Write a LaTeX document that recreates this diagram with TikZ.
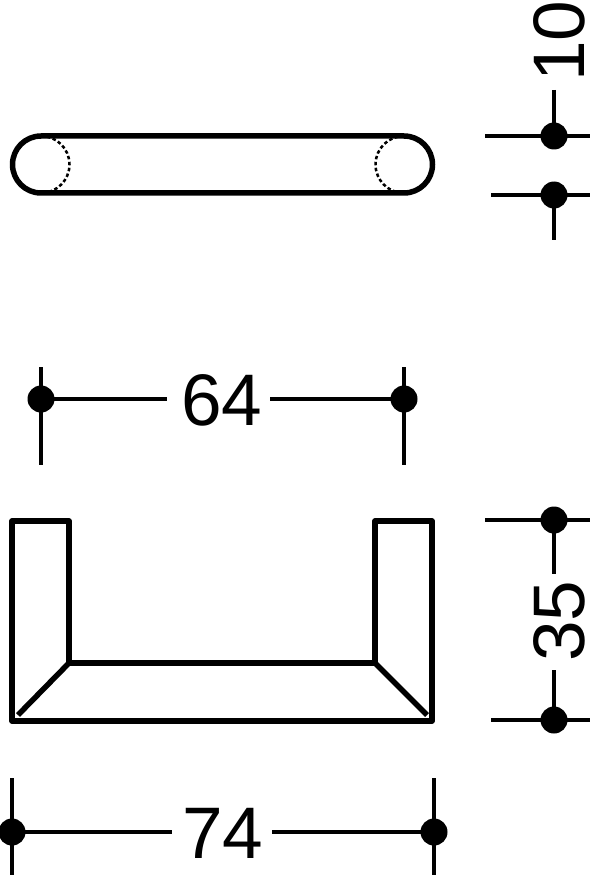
\documentclass[tikz,border=0pt]{standalone}
\usepackage{fontspec}
\setmainfont{Liberation Sans}
\tikzset{
  x=1pt,y=-1pt,
  part/.style={draw=black,line width=5.5pt,line join=round},
  hidden/.style={draw=black,line width=2.5pt,dash pattern=on 3.5pt off 2.5pt},
  dim/.style={draw=black,line width=3.5pt},
  dimdot/.style={circle,fill=black,minimum size=27pt,inner sep=0pt},
  dimtext/.style={font=\fontsize{73}{73}\selectfont,inner sep=0pt,text=black}
}
\begin{document}
\begin{tikzpicture}
\useasboundingbox (0,0) rectangle (600,877);
% top view
\draw[part] (41,136) -- (404,136) arc[start angle=-90,end angle=90,radius=28.5] -- (41,193) arc[start angle=90,end angle=270,radius=28.5] -- cycle;
\draw[hidden] (41,136) arc[start angle=-90,end angle=90,radius=28.5];
\draw[hidden] (404,136) arc[start angle=270,end angle=90,radius=28.5];
% front view
\draw[part] (12,521) -- (69,521) -- (69,663) -- (375,663) -- (375,521) -- (432,521) -- (432,721) -- (12,721) -- cycle;
\draw[part,line cap=butt] (69,663) -- (18,715);
\draw[part,line cap=butt] (375,663) -- (427,715);
% dimension 10
\node[dimdot] (a1) at (554,136) {};
\node[dimdot] (a2) at (554,195) {};
\coordinate (a1t) at (554,90);
\coordinate (a2b) at (554,240);
\coordinate (a1l) at (485,136);
\coordinate (a1r) at (590,136);
\coordinate (a2l) at (491,195);
\coordinate (a2r) at (590,195);
\draw[dim] (a1t) -- (a1.center);
\draw[dim] (a2.center) -- (a2b);
\draw[dim] (a1l) -- (a1r);
\draw[dim] (a2l) -- (a2r);
\node[dimtext,rotate=90] (t10) at (559,41) {10};
% dimension 64
\node[dimdot] (b1) at (41,399) {};
\node[dimdot] (b2) at (404,399) {};
\node[dimtext] (t64) at (222,400) {64};
\coordinate (b1t) at (41,367);
\coordinate (b1b) at (41,465);
\coordinate (b2t) at (404,367);
\coordinate (b2b) at (404,465);
\coordinate (t64l) at (167,399);
\coordinate (t64r) at (270,399);
\draw[dim] (b1t) -- (b1b);
\draw[dim] (b2t) -- (b2b);
\draw[dim] (b1.center) -- (t64l);
\draw[dim] (t64r) -- (b2.center);
% dimension 35
\node[dimdot] (c1) at (554,520) {};
\node[dimdot] (c2) at (554,720) {};
\node[dimtext,rotate=90] (t35) at (559,621) {35};
\coordinate (c1l) at (485,520);
\coordinate (c1r) at (590,520);
\coordinate (c2l) at (491,720);
\coordinate (c2r) at (590,720);
\coordinate (t35t) at (554,574);
\coordinate (t35b) at (554,670);
\draw[dim] (c1l) -- (c1r);
\draw[dim] (c2l) -- (c2r);
\draw[dim] (c1.center) -- (t35t);
\draw[dim] (t35b) -- (c2.center);
% dimension 74
\node[dimdot] (d1) at (12,832) {};
\node[dimdot] (d2) at (434,832) {};
\node[dimtext] (t74) at (223,833) {74};
\coordinate (d1t) at (12,778);
\coordinate (d1b) at (12,875);
\coordinate (d2t) at (434,778);
\coordinate (d2b) at (434,875);
\coordinate (t74l) at (172,832);
\coordinate (t74r) at (272,832);
\draw[dim] (d1t) -- (d1b);
\draw[dim] (d2t) -- (d2b);
\draw[dim] (d1.center) -- (t74l);
\draw[dim] (t74r) -- (d2.center);
\end{tikzpicture}
\end{document}
